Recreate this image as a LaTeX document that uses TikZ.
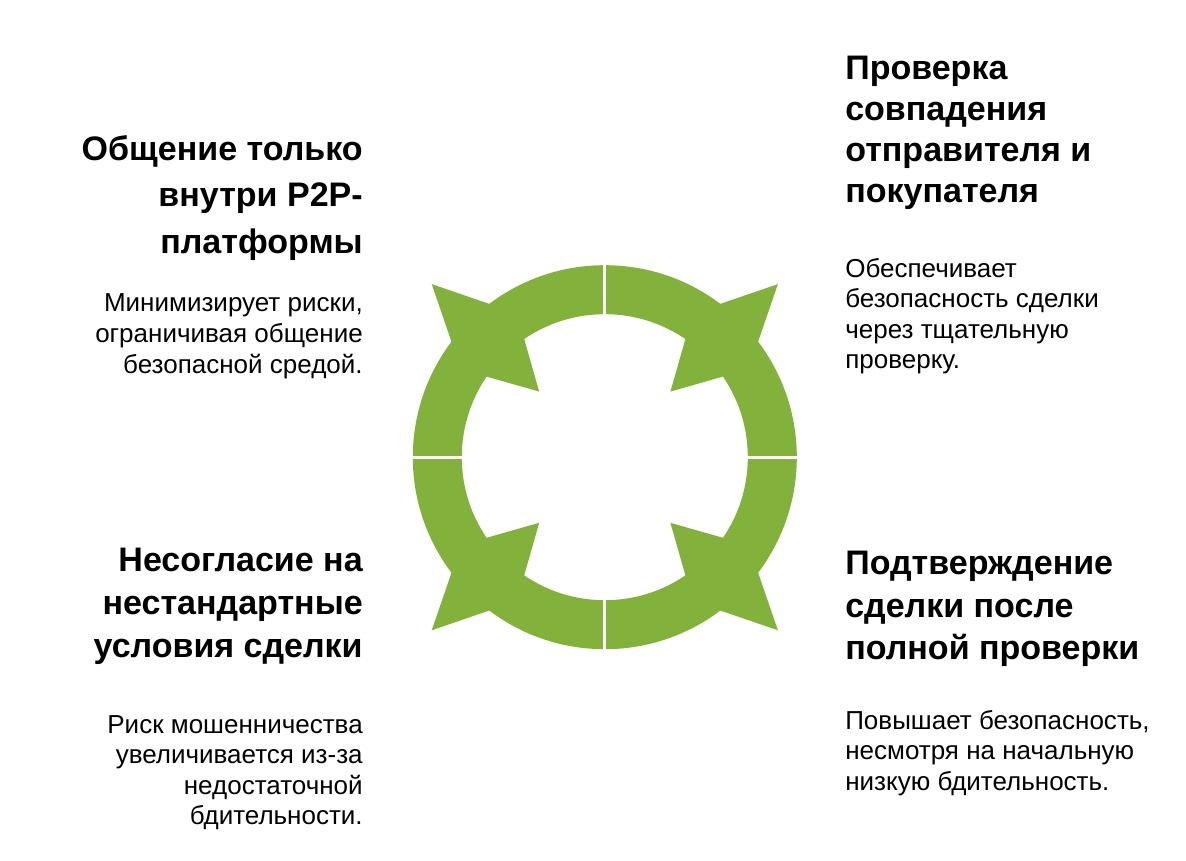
\documentclass[tikz,border=0pt]{standalone}
\usepackage{fontspec}
\setmainfont{Liberation Sans}
\usetikzlibrary{positioning}
\definecolor{ringgreen}{RGB}{130,178,60}

\begin{document}
\begin{tikzpicture}
		\tikzstyle{Head} = [inner sep=0pt, font=\bfseries\fontsize{24.2}{28.8}\selectfont]
		\tikzstyle{Body} = [inner sep=0pt, font=\fontsize{18.5}{21.7}\selectfont]
		\tikzstyle{Gap} = [white, line width=2.2pt]
		
		\useasboundingbox (0,0) rectangle (29.65,21.5);
		\coordinate (C) at (15.12,10.07);
		
		% ring with four double tips
		\fill [ringgreen, even odd rule] (C) circle (4.8) (C) circle (3.575);
		\foreach \a in {45,135,225,315}
			\fill [ringgreen, shift={(C)}] (\a:6.12) -- ({\a-8}:4.8) -- ({\a-10.7}:3.575) -- (\a:2.32)
				-- ({\a+10.7}:3.575) -- ({\a+8}:4.8) -- cycle;
		\foreach \a in {0,90,180,270}
			\draw [Gap, shift={(C)}] (\a:3.45) -- (\a:4.95);
		
		% left side
		\node (tlhead) [Head, align=right, anchor=north east] at (9.075,18.125)
			{Общение только\\[4.4pt]внутри P2P-\\[4.4pt]платформы};
		\node (tlbody) [Body, align=right, anchor=north east] at (9.075,14.175)
			{Минимизирует риски,\\[0.6pt]ограничивая общение\\[0.6pt]безопасной средой.};
		\node (blhead) [Head, align=right, anchor=north east] at (9.075,7.8)
			{Несогласие на\\[1.8pt]нестандартные\\[1.8pt]условия сделки};
		\node (blbody) [Body, align=right, anchor=north east] at (9.075,3.625)
			{Риск мошенничества\\увеличивается из-за\\недостаточной\\бдительности.};
		
		% right side
		\node (trhead) [Head, align=left, anchor=north west] at (21.125,20.1)
			{Проверка\\[0.4pt]совпадения\\[0.4pt]отправителя и\\[0.4pt]покупателя};
		\node (trbody) [Body, align=left, anchor=north west] at (21.125,15.05)
			{Обеспечивает\\безопасность сделки\\через тщательную\\проверку.};
		\node (brhead) [Head, align=left, anchor=north west] at (21.125,7.72)
			{Подтверждение\\[1.2pt]сделки после\\[1.2pt]полной проверки};
		\node (brbody) [Body, align=left, anchor=north west] at (21.125,3.75)
			{Повышает безопасность,\\несмотря на начальную\\низкую бдительность.};
\end{tikzpicture}
\end{document}
